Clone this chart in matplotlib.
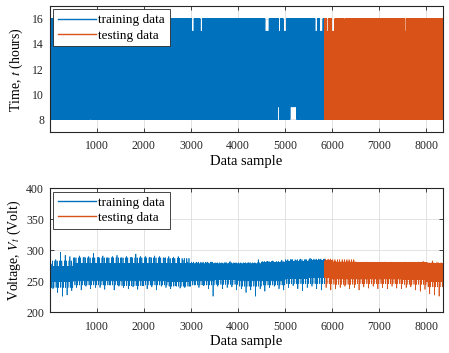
import numpy as np
import matplotlib
matplotlib.use("Agg")
import matplotlib.pyplot as plt

plt.rcParams['font.family'] = ['Liberation Serif', 'DejaVu Serif']
plt.rcParams['mathtext.fontset'] = 'stix'

# --- data ---
n_samples = 8352
n_train = 5840

# one working day, hourly samples
day_hours = [8, 9, 10, 11, 12, 13, 14, 15, 16]
# sample ranges where the day stops at 15 h / starts at 9 h
top_gaps = [(3020, 3060), (3200, 3240), (4580, 4660), (4860, 4900), (4960, 5030),
            (5640, 5680), (5740, 5800), (5890, 5920), (5990, 6050), (6260, 6280),
            (7540, 7560), (8110, 8125)]
bottom_gaps = [(75, 85), (855, 865), (1575, 1585), (2410, 2420), (4850, 4870),
               (5110, 5240), (5310, 5320), (7410, 7425)]

# voltage: dense band per 500 samples
core_hi = [274, 279, 279, 279, 279, 279, 278, 278, 278, 280, 282, 283, 281, 280, 280, 280, 279]
core_lo = [250, 252, 252, 252, 251, 250, 252, 253, 252, 252, 255, 256, 254, 254, 254, 253, 250]
# voltage: lighter fringe of the band per 500 samples
fringe_hi = [283, 288, 288, 288, 288, 287, 281, 280, 280, 282, 285, 286, 285, 281, 281, 281, 280]
fringe_lo = [240, 244, 244, 243, 244, 242, 244, 245, 242, 244, 246, 246, 245, 246, 246, 245, 241]
# voltage: spike extremes per 100 samples
spike_hi = [278, 285, 297, 292, 290, 288, 291, 289, 290, 295,
            289, 291, 288, 290, 292, 288, 290, 289, 294, 290,
            290, 289, 291, 290, 288, 290, 289, 290, 284, 281,
            279, 280, 278, 280, 281, 279, 278, 280, 282, 279,
            278, 279, 280, 279, 285, 281, 282, 283, 281, 284,
            283, 285, 284, 286, 285, 287, 284, 285, 286, 281,
            280, 281, 279, 280, 281, 280, 279, 281, 280, 279,
            280, 281, 280, 279, 280, 281, 280, 279, 281, 282,
            280, 283, 280, 278]
spike_lo = [238, 232, 226, 228, 235, 240, 236, 242, 238, 240,
            240, 237, 244, 236, 242, 240, 238, 241, 237, 243,
            238, 241, 236, 242, 240, 238, 243, 239, 240, 242,
            244, 240, 243, 238, 226, 242, 238, 240, 241, 236,
            238, 232, 236, 226, 238, 234, 240, 242, 238, 236,
            240, 243, 238, 235, 240, 242, 238, 236, 240, 236,
            238, 240, 242, 238, 240, 236, 241, 239, 242, 238,
            240, 238, 242, 239, 238, 240, 241, 236, 234, 237,
            230, 228, 226, 232]

# --- build series from the read values ---
x = np.arange(1, n_samples + 1)
hours = np.tile(day_hours, n_samples // len(day_hours) + 1)[:n_samples].astype(float)
for a, b in top_gaps:
    hours[a:b] = np.minimum(hours[a:b], 15)
for a, b in bottom_gaps:
    hours[a:b] = np.maximum(hours[a:b], 9)

volt = np.empty(n_samples)
for i in range(n_samples):
    blk = i // 500
    volt[i] = core_hi[blk] if i % 2 else core_lo[blk]
    if i % 100 in (12, 58):
        volt[i] = fringe_hi[blk]
    elif i % 100 in (37, 89):
        volt[i] = fringe_lo[blk]
for b in range(len(spike_hi)):
    s = b * 100
    if s + 30 < n_samples:
        volt[s + 30] = spike_hi[b]
    if s + 70 < n_samples:
        volt[s + 70] = spike_lo[b]

blue = '#0072BD'
orange = '#D95319'

fig = plt.figure(figsize=(4.49, 3.53), dpi=100)
ax1 = fig.add_axes([0.1105, 0.626, 0.876, 0.357])
ax2 = fig.add_axes([0.1105, 0.1153, 0.876, 0.351])


def style(ax):
    ax.grid(True, color='#dedede', lw=0.6)
    ax.set_axisbelow(True)
    ax.tick_params(direction='in', top=True, right=True, length=3, width=0.6,
                   labelsize=8.5, colors='#262626', pad=4)
    ax.tick_params(axis='x', pad=6)
    for sp in ax.spines.values():
        sp.set_color('#262626')
        sp.set_linewidth(0.8)
    ax.set_xlim(0, n_samples)
    ax.set_xticks([1000, 2000, 3000, 4000, 5000, 6000, 7000, 8000])
    ax.set_xlabel('Data sample', fontsize=10.5, labelpad=2)
    leg = ax.legend(loc='upper left', fontsize=9.5, fancybox=False, framealpha=1,
                    edgecolor='#262626', handlelength=2.9, handletextpad=0.2,
                    borderpad=0.35, labelspacing=0.25, borderaxespad=0.25)
    leg.get_frame().set_linewidth(0.6)
    for ln in leg.get_lines():
        ln.set_linewidth(1.0)


ax1.plot(x[:n_train], hours[:n_train], color=blue, lw=0.5, label='training data')
ax1.plot(x[n_train:], hours[n_train:], color=orange, lw=0.5, label='testing data')
ax1.set_ylim(7, 17)
ax1.set_yticks([8, 10, 12, 14, 16])
ax1.set_ylabel('Time, $t$ (hours)', fontsize=10, labelpad=5)
style(ax1)

ax2.plot(x[:n_train], volt[:n_train], color=blue, lw=0.5, label='training data')
ax2.plot(x[n_train:], volt[n_train:], color=orange, lw=0.5, label='testing data')
ax2.set_ylim(200, 400)
ax2.set_yticks([200, 250, 300, 350, 400])
ax2.set_ylabel('Voltage, $V_t$ (Volt)', fontsize=10, labelpad=2)
style(ax2)

fig.savefig('out.png', dpi=100)
